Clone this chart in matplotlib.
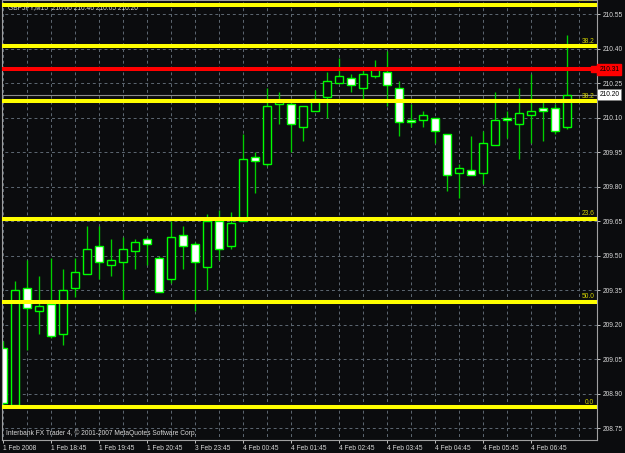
import matplotlib
matplotlib.use("Agg")
import matplotlib.pyplot as plt
import numpy as np

plt.rcParams["font.family"] = ["Liberation Sans", "DejaVu Sans"]

# GBPJPY M15 bars
opens = [209.10, 208.85, 209.36, 209.26, 209.29, 209.16, 209.36, 209.42, 209.54, 209.46,
         209.47, 209.52, 209.57, 209.49, 209.40, 209.59, 209.55, 209.45, 209.65, 209.54,
         209.65, 209.93, 209.90, 210.16, 210.16, 210.06, 210.13, 210.19, 210.25, 210.27,
         210.23, 210.28, 210.30, 210.23, 210.09, 210.09, 210.10, 210.03, 209.86, 209.87,
         209.86, 209.98, 210.10, 210.07, 210.11, 210.14, 210.14, 210.06]
highs = [209.13, 209.39, 209.48, 209.41, 209.49, 209.44, 209.49, 209.63, 209.63, 209.57,
         209.58, 209.57, 209.58, 209.50, 209.65, 209.63, 209.56, 209.68, 209.70, 209.69,
         210.03, 209.95, 210.23, 210.21, 210.17, 210.15, 210.22, 210.30, 210.36, 210.29,
         210.31, 210.35, 210.39, 210.26, 210.16, 210.13, 210.10, 210.03, 209.90, 210.02,
         210.04, 210.21, 210.13, 210.23, 210.29, 210.18, 210.16, 210.46]
lows = [208.84, 208.84, 209.09, 209.16, 209.14, 209.11, 209.32, 209.42, 209.40, 209.41,
        209.30, 209.44, 209.46, 209.34, 209.38, 209.44, 209.26, 209.35, 209.48, 209.53,
        209.65, 209.77, 209.89, 210.07, 209.95, 210.00, 210.13, 210.10, 210.25, 210.21,
        210.18, 210.27, 210.15, 210.02, 210.06, 210.06, 209.99, 209.78, 209.75, 209.85,
        209.81, 209.98, 210.01, 209.92, 209.99, 210.00, 210.03, 210.05]
closes = [208.86, 209.35, 209.27, 209.28, 209.15, 209.35, 209.43, 209.53, 209.47, 209.48,
          209.53, 209.56, 209.55, 209.34, 209.58, 209.54, 209.47, 209.65, 209.53, 209.64,
          209.92, 209.91, 210.15, 210.17, 210.07, 210.15, 210.18, 210.26, 210.28, 210.24,
          210.29, 210.31, 210.24, 210.08, 210.08, 210.11, 210.04, 209.85, 209.88, 209.85,
          209.99, 210.09, 210.09, 210.12, 210.13, 210.13, 210.04, 210.20]

time_labels = ["1 Feb 2008", "1 Feb 18:45", "1 Feb 19:45", "1 Feb 20:45", "3 Feb 23:45",
               "4 Feb 00:45", "4 Feb 01:45", "4 Feb 02:45", "4 Feb 03:45", "4 Feb 04:45",
               "4 Feb 05:45", "4 Feb 06:45"]
price_ticks = [208.75, 208.90, 209.05, 209.20, 209.35, 209.50, 209.65, 209.80,
               209.95, 210.10, 210.25, 210.40, 210.55]

fib_levels = [210.59, 210.41, 210.17, 209.66, 209.30, 208.84]
fib_labels = ["100.0", "38.2", "38.2", "23.6", "50.0", "0.0"]
red_level = 210.31
bid = 210.20

BG = "#0b0c0e"
GRID = "#5e6873"
UP_EDGE = "#00ff00"
WICK = "#00d000"
FG = "#d8d8d8"
FS = 4.8

fig = plt.figure(figsize=(6.25, 4.53), dpi=100, facecolor=BG)
ax = fig.add_axes([2 / 625, 13 / 453, 595 / 625, 440 / 453], facecolor=BG)

n = len(opens)
x = np.arange(n)
ax.set_xlim(-0.06, 49.5)
ax.set_ylim(208.698, 210.611)

# grid
ax.hlines(price_ticks, -1, 51, colors=GRID, linewidth=0.7, linestyles=(0, (3, 3)), zorder=0.5)
ax.vlines(np.arange(0, 50, 2), 208.0, 211.0, colors=GRID, linewidth=0.7,
          linestyles=(0, (3, 3)), zorder=0.5)

# bid line
ax.axhline(bid, color="#8a8a8a", linewidth=0.8, zorder=1)

# candles: hollow = up, white = down
o = np.array(opens)
c = np.array(closes)
ax.vlines(x, lows, highs, colors=WICK, linewidth=0.95, zorder=2)
bottoms = np.minimum(o, c)
heights = np.maximum(np.abs(c - o), 0.001)
fills = ["white" if cc < oo else BG for oo, cc in zip(o, c)]
ax.bar(x, heights, bottom=bottoms, width=0.64, color=fills, edgecolor=UP_EDGE,
       linewidth=1.0, zorder=2.2)

# title (mostly hidden under the top fib line)
ax.text(6 / 595, 1 - 8 / 440, "GBPJPY,M15  210.06 210.46 210.05 210.20",
        transform=ax.transAxes, color=FG, fontsize=FS, va="center", ha="left", zorder=2.5)

# fibonacci lines
for lvl, lab in zip(fib_levels, fib_labels):
    ax.axhline(lvl, color="#ffff00", linewidth=2.9, zorder=3)
    ax.text(49.27, lvl + 0.006, lab, color="#d2d200", fontsize=FS, ha="right",
            va="bottom", zorder=3.5)

# red horizontal line with end marker
ax.plot([-1, 49.27], [red_level, red_level], color="#ff0000", linewidth=2.9, zorder=3)
ax.plot([49.27], [red_level], marker="s", ms=4.2, color="#ff0000", zorder=3.2)

ax.text(4 / 595, 7 / 440, "Interbank FX Trader 4, \u00a9 2001-2007 MetaQuotes Software Corp.",
        transform=ax.transAxes, color=FG, fontsize=FS, va="center", ha="left", zorder=4)

# axes styling
for sp in ax.spines.values():
    sp.set_color("#a0a0a0")
    sp.set_linewidth(0.8)

ax.yaxis.tick_right()
ax.set_yticks(price_ticks)
ax.set_yticklabels([f"{p:.2f}" for p in price_ticks])
ax.set_xticks(np.arange(0, 48, 4))
ax.set_xticklabels(time_labels)
for lab in ax.get_xticklabels():
    lab.set_horizontalalignment("left")
ax.tick_params(axis="y", colors="#c0c0c0", labelcolor=FG, labelsize=FS, length=2.5,
               width=0.7, pad=1.5)
ax.tick_params(axis="x", colors="#c0c0c0", labelcolor=FG, labelsize=FS, length=2.5,
               width=0.7, pad=1.0)

# price boxes on the scale
ytr = ax.get_yaxis_transform()
ax.text(1.004, red_level, "210.31", transform=ytr, color="black", fontsize=FS,
        va="center", ha="left", clip_on=False, zorder=5,
        bbox=dict(boxstyle="square,pad=0.3", fc="#ff0000", ec="#ff0000"))
ax.text(1.004, bid, "210.20", transform=ytr, color="black", fontsize=FS,
        va="center", ha="left", clip_on=False, zorder=5,
        bbox=dict(boxstyle="square,pad=0.3", fc="white", ec="#808080", lw=0.6))

fig.savefig("out.png", dpi=100, facecolor=BG)
